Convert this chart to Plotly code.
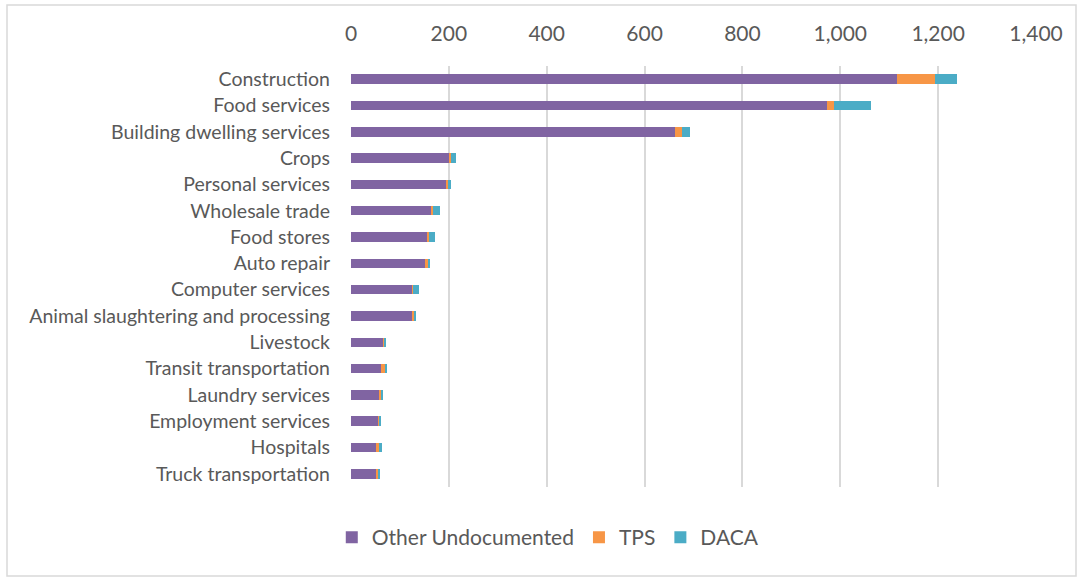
import plotly.graph_objects as go

# Industries, listed top to bottom
industries = [
    "Construction", "Food services", "Building dwelling services", "Crops",
    "Personal services", "Wholesale trade", "Food stores", "Auto repair",
    "Computer services", "Animal slaughtering and processing", "Livestock",
    "Transit transportation", "Laundry services", "Employment services",
    "Hospitals", "Truck transportation",
]

# Workers (thousands) by status
other_undocumented = [1116, 973, 662, 202, 195, 165, 157, 153, 125, 125, 66, 62, 59, 56, 53, 51]
tps = [77, 15, 15, 3, 3, 3, 3, 4, 2, 3, 1.5, 8, 3, 3, 4, 5]
daca = [45, 75, 15, 9, 6, 14, 12, 5, 12, 5, 4, 2, 1.5, 0.7, 6, 3]

x_ticks = [0, 200, 400, 600, 800, 1000, 1200, 1400]
x_tick_text = ["0", "200", "400", "600", "800", "1,000", "1,200", "1,400"]

series = [
    ("Other Undocumented", other_undocumented, "#8064A2"),
    ("TPS", tps, "#F79646"),
    ("DACA", daca, "#4BACC6"),
]

FONT = "Lato, Open Sans, sans-serif"
TEXT = "#595959"

fig = go.Figure()
for name, vals, color in series:
    fig.add_trace(go.Bar(
        y=industries, x=vals, name=name, orientation="h",
        marker=dict(color=color, line=dict(width=0)),
    ))

fig.update_layout(
    barmode="stack",
    bargap=0.64,
    width=1079, height=579,
    margin=dict(l=351, r=43, t=66, b=92),
    paper_bgcolor="white",
    plot_bgcolor="white",
    font=dict(family=FONT, color=TEXT),
    xaxis=dict(
        side="top", range=[0, 1400], tickvals=x_ticks, ticktext=x_tick_text,
        showgrid=True, gridcolor="#D9D9D9", gridwidth=1.5,
        zeroline=False, showline=False, ticks="",
        tickfont=dict(size=21, color=TEXT, family=FONT),
        ticklabelstandoff=20,
    ),
    yaxis=dict(
        categoryorder="array", categoryarray=industries, autorange="reversed",
        showgrid=False, zeroline=False, showline=False, ticks="",
        tickfont=dict(size=19.5, color=TEXT, family=FONT),
        ticklabelstandoff=20, automargin=False,
    ),
    legend=dict(
        orientation="h", x=0.288, xanchor="center", y=-0.12, yanchor="middle",
        font=dict(size=21, color=TEXT, family=FONT),
        traceorder="normal", itemwidth=30,
    ),
    shapes=[dict(
        type="rect", xref="paper", yref="paper",
        x0=-344 / 685, x1=1076 / 685 - 351 / 685,
        y0=-89 / 421, y1=1 + 61 / 421,
        line=dict(color="#D9D9D9", width=1.5), fillcolor="rgba(0,0,0,0)",
        layer="below",
    )],
)

fig.write_html("out.html")
